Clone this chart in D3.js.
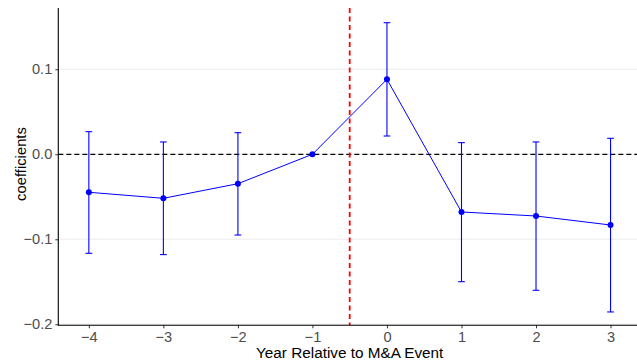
<!DOCTYPE html>
<html>
<head>
<meta charset="utf-8">
<script src="https://cdn.jsdelivr.net/npm/d3@7"></script>
<style>
  body { margin: 0; background: #fff; }
  svg { display: block; font-family: "Liberation Sans", Arial, sans-serif; }
</style>
</head>
<body>
<script>
// event-study coefficients
var years = [-4, -3, -2, -1, 0, 1, 2, 3];
var coef  = [-0.0447, -0.0518, -0.0346, 0.0, 0.0882, -0.0679, -0.0726, -0.0832];
var upper = [0.0266, 0.0145, 0.0254, null, 0.1548, 0.0137, 0.0145, 0.0188];
var lower = [-0.1165, -0.118, -0.095, null, 0.0215, -0.1499, -0.160, -0.1855];
var yTicks = [-0.2, -0.1, 0.0, 0.1];
var eventLine = -0.5;

var width = 637, height = 360;
var pLeft = 58.3, pRight = 641.1, pTop = 8, pBottom = 325.3;

var svg = d3.select("body").append("svg")
    .attr("width", width)
    .attr("height", height);

var x = d3.scaleLinear().domain([-4.41, 3.41]).range([pLeft, pRight]);
var y = d3.scaleLinear().domain([-0.2012, 0.1721]).range([pBottom, pTop]);

//horizontal grid lines
svg.selectAll(".grid")
    .data(yTicks)
    .enter()
    .append("line")
    .attr("class", "grid")
    .attr("x1", pLeft).attr("x2", pRight)
    .attr("y1", function(d){ return y(d); })
    .attr("y2", function(d){ return y(d); })
    .attr("stroke", "#ebebeb")
    .attr("stroke-width", 1.1);

//zero reference line
svg.append("line")
    .attr("x1", pLeft).attr("x2", pRight)
    .attr("y1", y(0)).attr("y2", y(0))
    .attr("stroke", "#000")
    .attr("stroke-width", 1.3)
    .attr("stroke-dasharray", "5,3");

//event line
svg.append("line")
    .attr("x1", x(eventLine)).attr("x2", x(eventLine))
    .attr("y1", pTop).attr("y2", pBottom)
    .attr("stroke", "red")
    .attr("stroke-width", 1.8)
    .attr("stroke-dasharray", "5,3.5");

var rows = years.map(function(yr, i){
  return {year: yr, coef: coef[i], hi: upper[i], lo: lower[i]};
});

//error bars
var bars = svg.selectAll(".bar")
    .data(rows.filter(function(d){ return d.hi !== null; }))
    .enter()
    .append("g")
    .attr("class", "bar")
    .attr("stroke", "blue")
    .attr("stroke-width", 1.1);

var cap = 0.045;
bars.append("line")
    .attr("x1", function(d){ return x(d.year); })
    .attr("x2", function(d){ return x(d.year); })
    .attr("y1", function(d){ return y(d.hi); })
    .attr("y2", function(d){ return y(d.lo); });
bars.append("line")
    .attr("x1", function(d){ return x(d.year - cap); })
    .attr("x2", function(d){ return x(d.year + cap); })
    .attr("y1", function(d){ return y(d.hi); })
    .attr("y2", function(d){ return y(d.hi); });
bars.append("line")
    .attr("x1", function(d){ return x(d.year - cap); })
    .attr("x2", function(d){ return x(d.year + cap); })
    .attr("y1", function(d){ return y(d.lo); })
    .attr("y2", function(d){ return y(d.lo); });

//coefficient line and points
var line = d3.line()
    .x(function(d){ return x(d.year); })
    .y(function(d){ return y(d.coef); });

svg.append("path")
    .datum(rows)
    .attr("d", line)
    .attr("fill", "none")
    .attr("stroke", "blue")
    .attr("stroke-width", 1);

svg.selectAll(".pt")
    .data(rows)
    .enter()
    .append("circle")
    .attr("class", "pt")
    .attr("cx", function(d){ return x(d.year); })
    .attr("cy", function(d){ return y(d.coef); })
    .attr("r", 3)
    .attr("fill", "blue");

//axes
var yAxis = svg.append("g")
    .attr("transform", "translate(" + pLeft + ",0)")
    .call(d3.axisLeft(y).tickValues(yTicks).tickSize(3).tickPadding(3)
      .tickFormat(d3.format(".1f")));
var xAxis = svg.append("g")
    .attr("transform", "translate(0," + pBottom + ")")
    .call(d3.axisBottom(x).tickValues(years).tickSize(3).tickPadding(3)
      .tickFormat(d3.format("d")));

[xAxis, yAxis].forEach(function(a){
  a.select(".domain").remove();
  a.selectAll(".tick line").attr("stroke", "#333").attr("stroke-width", 1);
  a.selectAll(".tick text")
    .attr("fill", "#4d4d4d")
    .style("font-size", "14.6px")
    .style("font-family", "Liberation Sans, Arial, sans-serif");
});

//axis lines
svg.append("line")
    .attr("x1", pLeft).attr("x2", pLeft)
    .attr("y1", pTop).attr("y2", pBottom + 0.5)
    .attr("stroke", "#000").attr("stroke-width", 1.1);
svg.append("line")
    .attr("x1", pLeft).attr("x2", pRight)
    .attr("y1", pBottom).attr("y2", pBottom)
    .attr("stroke", "#000").attr("stroke-width", 1.1);

//axis titles
svg.append("text")
    .attr("x", (pLeft + pRight) / 2)
    .attr("y", 357.5)
    .attr("text-anchor", "middle")
    .style("font-size", "15.3px")
    .text("Year Relative to M&A Event");

svg.append("text")
    .attr("transform", "translate(25.5,164) rotate(-90)")
    .attr("text-anchor", "middle")
    .style("font-size", "14.8px")
    .text("coefficients");
</script>
</body>
</html>
